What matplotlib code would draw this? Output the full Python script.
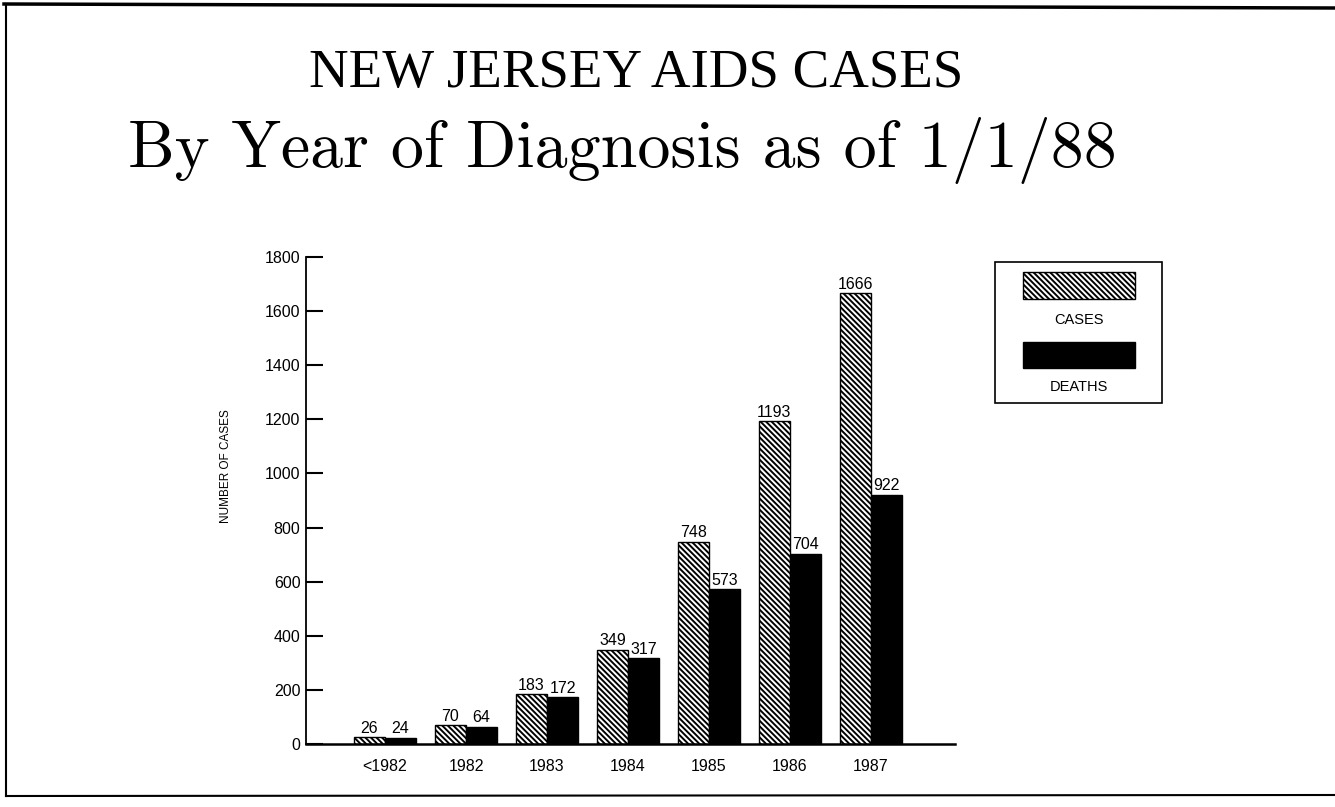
import matplotlib
matplotlib.use("Agg")
import matplotlib.pyplot as plt
from matplotlib.patches import Rectangle
from matplotlib.lines import Line2D

# ---- data ----
categories = ['<1982', '1982', '1983', '1984', '1985', '1986', '1987']
cases = [26, 70, 183, 349, 748, 1193, 1666]
deaths = [24, 64, 172, 317, 573, 704, 922]
yticks = [0, 200, 400, 600, 800, 1000, 1200, 1400, 1600, 1800]
series_names = ['CASES', 'DEATHS']

W, H = 1335, 807
plt.rcParams['hatch.linewidth'] = 1.4
plt.rcParams['hatch.color'] = 'black'
HATCH = '\\' * 6

fig = plt.figure(figsize=(W / 100, H / 100), dpi=100)
fig.patch.set_facecolor('white')


def fx(x):
    return x / W


def fy(y):
    return 1 - y / H


# axes placement (pixel coords of the reference)
ax_l, ax_r, ax_t, ax_b = 306, 955, 257, 744
ax = fig.add_axes([fx(ax_l), fy(ax_b), (ax_r - ax_l) / W, (ax_b - ax_t) / H])

pitch = 81.0
x0 = 385.0
xs = list(range(len(categories)))
bw = 0.385
sans = 'Liberation Sans'

b1 = ax.bar([x - bw for x in xs], cases, width=bw, align='edge',
            color='white', edgecolor='black', hatch=HATCH, linewidth=1.0)
b2 = ax.bar(xs, deaths, width=bw, align='edge',
            color='black', edgecolor='black', linewidth=1.0)

ax.bar_label(b1, labels=[str(v) for v in cases], padding=1,
             fontsize=11.5, family=sans)
ax.bar_label(b2, labels=[str(v) for v in deaths], padding=1,
             fontsize=11.5, family=sans)

ax.set_xlim((ax_l - x0) / pitch, (ax_r - x0) / pitch)
ax.set_ylim(0, 1800)
ax.set_xticks(xs)
ax.set_xticklabels(categories, fontsize=11.5, family=sans)
ax.set_yticks(yticks)
ax.set_yticklabels([str(v) for v in yticks], fontsize=11.5, family=sans)

ax.tick_params(axis='y', direction='in', length=12, width=1.5, pad=4)
ax.tick_params(axis='x', length=0, pad=11)
for s in ['top', 'right']:
    ax.spines[s].set_visible(False)
ax.spines['left'].set_linewidth(1.3)
ax.spines['bottom'].set_linewidth(1.8)

ax.set_ylabel('NUMBER OF CASES', fontsize=8.5, family=sans)
ax.yaxis.set_label_coords((232 - ax_l) / (ax_r - ax_l), 0.57)

# ---- titles ----
fig.text(fx(636), fy(74), 'NEW JERSEY AIDS CASES', ha='center', va='center',
         fontsize=39.5, family='Liberation Serif')
fig.text(fx(622), fy(151), 'By Year of Diagnosis as of 1/1/88', ha='center',
         va='center', fontsize=47.5, family='cmr10')

# ---- legend ----
fig.add_artist(Rectangle((fx(995), fy(403)), (1162 - 995) / W, (403 - 262) / H,
                         transform=fig.transFigure, facecolor='white',
                         edgecolor='black', linewidth=1.2))
fig.add_artist(Rectangle((fx(1023), fy(299)), (1135 - 1023) / W, (299 - 272) / H,
                         transform=fig.transFigure, facecolor='white',
                         edgecolor='black', hatch=HATCH, linewidth=1.0))
fig.add_artist(Rectangle((fx(1023), fy(368)), (1135 - 1023) / W, (368 - 342) / H,
                         transform=fig.transFigure, facecolor='black',
                         edgecolor='black', linewidth=1.0))
fig.text(fx(1079), fy(320), series_names[0], ha='center', va='center',
         fontsize=10.5, family=sans)
fig.text(fx(1079), fy(387), series_names[1], ha='center', va='center',
         fontsize=10.5, family=sans)

# ---- page frame ----
fig.add_artist(Line2D([fx(4), fx(1335)], [fy(4), fy(8)], transform=fig.transFigure,
                      color='black', linewidth=2.5))
fig.add_artist(Line2D([fx(6), fx(6)], [fy(4), fy(796)], transform=fig.transFigure,
                      color='black', linewidth=1.5))
fig.add_artist(Line2D([fx(6), fx(1335)], [fy(796), fy(795)], transform=fig.transFigure,
                      color='black', linewidth=1.5))

fig.savefig('out.png', dpi=100, facecolor='white')
